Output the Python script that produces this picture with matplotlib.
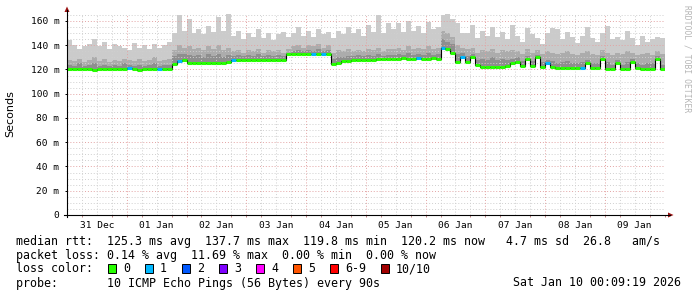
import numpy as np
import matplotlib
matplotlib.use('Agg')
import matplotlib.pyplot as plt
from matplotlib.patches import Rectangle, Polygon
from matplotlib.lines import Line2D

# ---------------- data (2-hour bins starting 31 Dec 00:00) ----------------
day_labels = ['31 Dec', '01 Jan', '02 Jan', '03 Jan', '04 Jan',
              '05 Jan', '06 Jan', '07 Jan', '08 Jan', '09 Jan']
y_ticks = [0, 20, 40, 60, 80, 100, 120, 140, 160]

median = [120.2, 120.0, 120.0, 120.3, 120.0, 119.8, 120.0, 120.2, 120.0, 120.0,
          120.4, 120.0, 121.5, 120.0, 119.9, 120.0, 120.3, 120.0, 120.5, 120.0,
          120.0,
          124.5, 127.0, 128.0,
          125.0, 125.0, 125.0, 125.0, 125.0, 125.0, 125.0, 125.0,
          126.5,
          128.0, 128.0, 128.0, 128.0, 128.0, 128.0, 128.0, 128.0, 128.0, 128.0, 128.0,
          132.5,
          132.5, 132.5, 132.5, 132.5, 132.5, 132.5, 132.5, 132.5,
          124.5, 125.5,
          127.0, 127.0, 127.5, 128.0, 128.0, 128.0, 128.0, 128.5, 128.5, 129.0,
          129.0, 129.0, 129.5, 129.0, 129.0, 129.5, 129.0, 129.0, 129.5, 129.0,
          137.5, 137.0, 134.0, 126.0, 130.5, 126.5, 130.5, 124.0,
          122.0, 122.0, 122.0, 122.0, 122.0, 122.5,
          125.0, 126.5, 123.0, 129.0, 122.5, 130.5, 122.0, 125.0, 122.0,
          121.0, 121.0, 121.0, 121.0, 121.0, 121.0,
          125.0, 121.0, 121.0, 129.0, 120.0, 120.5, 125.0, 120.5, 120.5, 126.0,
          121.0, 120.5, 120.5, 120.5, 129.0, 120.5]

loss = [0, 0, 0, 0, 0, 0, 0, 0, 0, 0, 0, 0, 1, 0, 0, 0, 0, 0, 1, 0,
        0, 0, 1, 0, 0, 0, 0, 0, 0, 0, 0, 0, 0, 1, 0, 0, 0, 0, 0, 0,
        0, 0, 0, 0, 0, 0, 0, 0, 0, 1, 0, 1, 0, 0, 0, 0, 0, 0, 0, 0,
        0, 0, 0, 0, 0, 0, 0, 0, 0, 0, 1, 0, 0, 0, 0, 1, 0, 0, 0, 1,
        0, 0, 0, 0, 0, 0, 0, 0, 0, 0, 0, 0, 0, 0, 0, 0, 1, 0, 0, 0,
        0, 0, 0, 1, 0, 0, 0, 0, 0, 0, 0, 0, 0, 0, 0, 0, 0, 0, 0, 0]

smoke_max = [144, 140, 137, 139, 141, 145, 139, 143, 137, 141, 139, 138,
             136, 142, 138, 140, 137, 141, 138, 140, 143,
             150, 165, 152, 162, 150, 153, 149, 156, 151, 163, 152, 166,
             148, 152, 145, 150, 147, 153, 146, 150, 144, 149, 151, 147,
             150, 155, 148, 152, 147, 153, 149, 151,
             146, 152, 149, 155, 150, 153, 148, 157, 151, 165, 150, 158,
             153, 158, 151, 160, 152, 156, 150, 159, 153, 155,
             165, 166, 162, 158, 150,
             150, 157, 146, 152, 148, 155, 147, 151, 145,
             157, 148, 143, 154, 149, 146, 141, 150, 154, 153, 145, 151, 147,
             142, 148, 155, 146, 143, 150, 156, 145, 147, 144, 152, 146, 140,
             148, 143, 145, 147, 146]

smoke_mid = [128, 127, 129, 126, 128, 130, 127, 129, 126, 128, 127, 129,
             128, 127, 129, 127, 128, 130, 127, 128, 129,
             136, 140, 138, 139, 137, 138, 136, 139, 137, 140, 136, 138,
             135, 136, 134, 136, 135, 137, 134, 136, 135, 136, 134, 137,
             139, 140, 138, 140, 139, 141, 138, 140,
             134, 136, 135, 137, 135, 136, 135, 137, 136, 138, 135, 137,
             137, 138, 136, 139, 137, 138, 137, 139, 137, 138,
             152, 150, 147, 140, 138,
             137, 138, 134, 136, 135, 137, 134, 136, 135,
             136, 135, 133, 137, 134, 136, 133, 135, 134, 133, 134, 135, 133,
             132, 134, 135, 133, 132, 136, 134, 132, 134, 133, 135, 134, 132,
             133, 134, 132, 135, 133]

smoke_dark = [124, 123, 125, 123, 124, 125, 123, 124, 123, 124, 123, 125,
              124, 123, 124, 123, 124, 125, 123, 124, 124,
              131, 133, 133, 132, 131, 132, 130, 133, 131, 133, 130, 132,
              131, 132, 131, 132, 131, 133, 131, 132, 131, 132, 131, 134,
              135, 136, 135, 136, 135, 137, 135, 136,
              129, 130, 130, 131, 131, 132, 131, 132, 131, 133, 131, 132,
              132, 133, 132, 134, 132, 133, 132, 134, 132, 133,
              145, 143, 141, 133, 134,
              131, 133, 128, 129, 128, 130, 128, 129, 128,
              129, 130, 127, 131, 127, 132, 126, 128, 127, 125, 126, 127, 125,
              125, 126, 128, 125, 125, 131, 126, 124, 128, 124, 126, 129, 125,
              124, 125, 125, 131, 124]

loss_labels = ['0', '1', '2', '3', '4', '5', '6-9', '10/10']
loss_colors = ['#26ff00', '#00b8ff', '#0059ff', '#7e00ff',
               '#ff00ff', '#ff5500', '#ff0000', '#a10000']

line_rtt = ('median rtt:  125.3 ms avg  137.7 ms max  119.8 ms min  '
            '120.2 ms now   4.7 ms sd  26.8   am/s')
line_loss = 'packet loss: 0.14 % avg  11.69 % max  0.00 % min  0.00 % now'
line_probe = 'probe:       10 ICMP Echo Pings (56 Bytes) every 90s'
stamp = 'Sat Jan 10 00:09:19 2026'
watermark = 'RRDTOOL / TOBI OETIKER'

# ---------------- figure ----------------
W, H = 697, 297
fig = plt.figure(figsize=(W / 100, H / 100), dpi=100)
fig.patch.set_facecolor('white')
MONO = 'DejaVu Sans Mono'


def fx(px):
    return px / W


def fy(py):
    return 1 - py / H


L, R, B, T = 67, 665, 215, 13.7
ax = fig.add_axes([fx(L), fy(B), (R - L) / W, (B - T) / H])
ax.set_facecolor('white')
x_start = 9 / 1440.0
ax.set_xlim(x_start, x_start + 10)
ax.set_ylim(0, 166)
for s in ax.spines.values():
    s.set_visible(False)

n = len(median)
bin_days = 2 / 24.0
edges = np.arange(n + 1) * bin_days
med = np.array(median)

# smoke
ax.stairs(smoke_max, edges, baseline=med, fill=True, color='#cbcbcb', lw=0, zorder=1)
ax.stairs(smoke_mid, edges, baseline=med, fill=True, color='#acacac', lw=0, zorder=1.1)
ax.stairs(smoke_dark, edges, baseline=med, fill=True, color='#8e8e8e', lw=0, zorder=1.2)

# grid
for v in np.arange(5, 166, 5):
    major = (v % 20 == 0)
    ax.axhline(v, color='#e3a3a3' if major else '#cfcfcf', lw=0.7,
               ls=(0, (1, 2)), zorder=2)
for d in np.arange(0.25, 10.01, 0.25):
    major = abs(d - round(d)) < 1e-6
    ax.axvline(d, color='#e3a3a3' if major else '#cfcfcf', lw=0.7,
               ls=(0, (1, 2)), zorder=2)

# median line: black steps + loss-coloured segments
ax.stairs(median, edges, baseline=None, color='black', lw=0.8, zorder=3)
ax.hlines(median, edges[:-1], edges[1:], colors=[loss_colors[l] for l in loss],
          lw=2.2, zorder=4)

# ticks
ax.set_yticks(y_ticks)
ax.set_yticklabels([('%d m' % v) if v else '0' for v in y_ticks],
                   family=MONO, fontsize=6.8)
ax.tick_params(axis='y', length=1.5, width=0.7, pad=4, color='black')
ax.set_xticks(np.arange(10) + 0.5)
ax.set_xticklabels(day_labels, family=MONO, fontsize=6.8)
ax.tick_params(axis='x', which='major', length=0, pad=4.5)
ax.set_xticks(np.arange(0, 10.01, 0.25), minor=True)
ax.tick_params(axis='x', which='minor', length=1.5, width=0.7, color='#c08080')

# axis lines and arrows
fig.add_artist(Line2D([fx(64), fx(670)], [fy(B), fy(B)], color='black', lw=0.8))
fig.add_artist(Line2D([fx(L), fx(L)], [fy(217), fy(10)], color='black', lw=0.8))
fig.add_artist(Polygon([[fx(668), fy(212.5)], [fx(673.5), fy(B)], [fx(668), fy(217.5)]],
                       closed=True, color='#9a1010', lw=0))
fig.add_artist(Polygon([[fx(64.5), fy(12)], [fx(L), fy(6.5)], [fx(69.5), fy(12)]],
                       closed=True, color='#9a1010', lw=0))

# labels
fig.text(fx(10.5), fy(114), 'Seconds', rotation=90, ha='center', va='center',
         fontsize=8, family='DejaVu Sans')
fig.text(fx(687), fy(5), watermark, rotation=270, ha='center', va='top',
         fontsize=5.8, family=MONO, color='#b5b5b5')

fs = 8.4
fig.text(fx(16), fy(244.7), line_rtt, family=MONO, fontsize=fs, va='baseline')
fig.text(fx(16), fy(258.7), line_loss, family=MONO, fontsize=fs, va='baseline')
fig.text(fx(16), fy(272.5), 'loss color:', family=MONO, fontsize=fs, va='baseline')
box_x = [108, 145, 182, 219, 256, 293, 330, 381]
for bx, lab, col in zip(box_x, loss_labels, loss_colors):
    fig.add_artist(Rectangle((fx(bx), fy(273)), 8 / W, 9 / H, facecolor=col,
                             edgecolor='black', lw=0.7))
    fig.text(fx(bx + 15), fy(272.5), lab, family=MONO, fontsize=fs, va='baseline')
fig.text(fx(16), fy(286.5), line_probe, family=MONO, fontsize=fs, va='baseline')
fig.text(fx(681), fy(286.5), stamp, family=MONO, fontsize=fs, va='baseline', ha='right')

fig.savefig('out.png', dpi=100, facecolor='white')
